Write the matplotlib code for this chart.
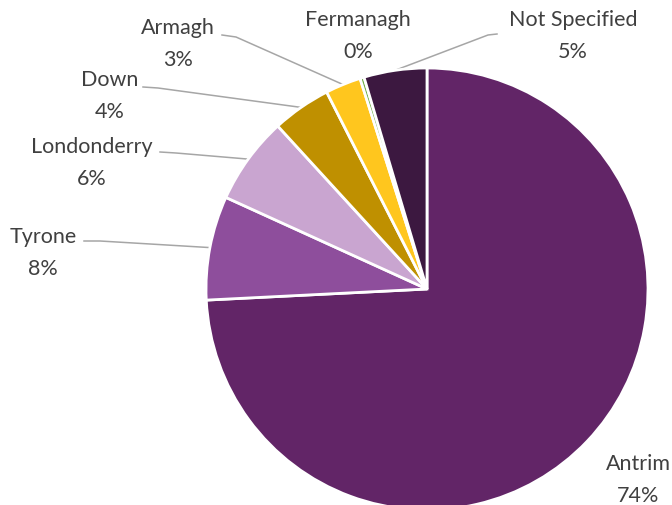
import numpy as np
import matplotlib
matplotlib.use("Agg")
import matplotlib.pyplot as plt

counties = ["Antrim", "Tyrone", "Londonderry", "Down", "Armagh", "Fermanagh", "Not Specified"]
shares = [74.2, 7.6, 6.4, 4.3, 2.6, 0.3, 4.6]
colors = ["#622567", "#8E4E9C", "#C9A5D0", "#BF9000", "#FFC61E", "#70AD47", "#3C1840"]

# label text centres (pixels from top-left) and leader elbow points
label_pos = {
    "Antrim": (638, 480), "Tyrone": (43, 253), "Londonderry": (92, 163),
    "Down": (110, 96), "Armagh": (178, 44), "Fermanagh": (358, 36),
    "Not Specified": (573, 36),
}
elbows = {
    "Tyrone": [(84, 242), (100, 242)],
    "Londonderry": [(160, 153), (176, 154)],
    "Down": [(143, 88), (158, 89)],
    "Armagh": [(222, 36), (236, 38)],
    "Not Specified": [(497, 35), (488, 36)],
}

W, H = 672, 506
fig = plt.figure(figsize=(W / 100, H / 100), dpi=100)
ax = fig.add_axes([0, 0, 1, 1])

cx, cy, r = 427, H - 290, 221
wedges, _ = ax.pie(shares, colors=colors, startangle=90, counterclock=False,
                   center=(cx, cy), radius=r, frame=True,
                   wedgeprops=dict(edgecolor="white", linewidth=2))
ax.set_xlim(0, W)
ax.set_ylim(0, H)
ax.set_aspect("equal")
ax.axis("off")

tc = "#404040"
total = sum(shares)
for w, name, val in zip(wedges, counties, shares):
    tx, ty = label_pos[name]
    ax.text(tx, H - ty, f"{name}\n{round(val / total * 100):.0f}%", ha="center", va="center",
            fontsize=15.5, color=tc, family="Lato", linespacing=1.75)
    if name in elbows:
        mid = np.deg2rad((w.theta1 + w.theta2) / 2)
        ex, ey = cx + r * np.cos(mid), cy + r * np.sin(mid)
        pts = elbows[name]
        xs = [p[0] for p in pts] + [ex]
        ys = [H - p[1] for p in pts] + [ey]
        ax.plot(xs, ys, color="#A6A6A6", lw=1.1, zorder=0.5)

fig.savefig("out.png", dpi=100)
